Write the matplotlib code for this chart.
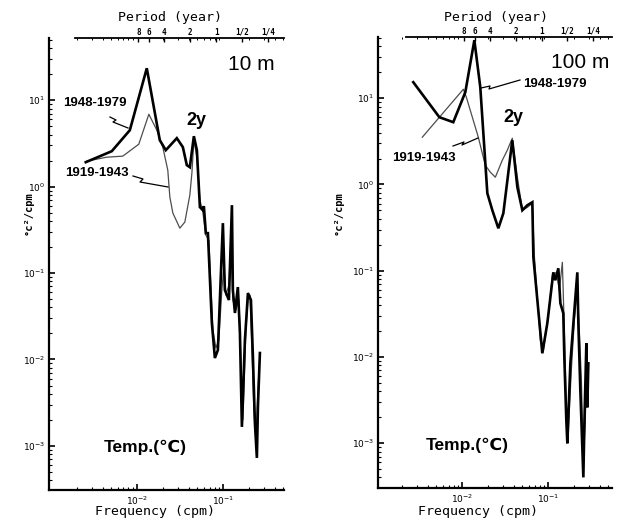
import numpy as np
import matplotlib
matplotlib.use("Agg")
import matplotlib.pyplot as plt
from matplotlib.lines import Line2D
from matplotlib.ticker import LogLocator, NullFormatter

# ---------------- data (log10 frequency [cpm], log10 power [degC^2/cpm]) -------------
# 10 m, 1948-1979
lf_10_a = [-2.593, -2.291, -2.081, -1.884, -1.733, -1.663, -1.535, -1.465, -1.419, -1.384,
           -1.337, -1.302, -1.267, -1.233, -1.221, -1.198, -1.174, -1.128, -1.093, -1.058,
           -1.000, -0.977, -0.930, -0.895, -0.884, -0.860, -0.826, -0.802, -0.779, -0.744,
           -0.709, -0.674, -0.651, -0.628, -0.605, -0.593, -0.570]
lp_10_a = [0.283, 0.410, 0.653, 1.370, 0.538, 0.422, 0.561, 0.457, 0.249, 0.225,
           0.584, 0.422, -0.237, -0.272, -0.225, -0.538, -0.538, -1.578, -1.983, -1.890,
           -0.422, -1.197, -1.312, -0.214, -1.197, -1.462, -1.162, -1.694, -2.780, -1.775,
           -1.231, -1.312, -1.971, -2.734, -3.139, -2.549, -1.925]
# 10 m, 1919-1943
lf_10_b = [-2.581, -2.349, -2.163, -1.977, -1.860, -1.767, -1.698, -1.640, -1.616, -1.581,
           -1.500, -1.442, -1.384, -1.360, -1.337, -1.302, -1.267, -1.233, -1.198, -1.163,
           -1.116, -1.081, -1.047, -1.012, -0.988, -0.965, -0.930, -0.907, -0.884, -0.849,
           -0.814, -0.791, -0.767, -0.733, -0.709, -0.686, -0.663, -0.640, -0.616, -0.593,
           -0.570]
lp_10_b = [0.295, 0.341, 0.353, 0.491, 0.838, 0.653, 0.457, 0.191, -0.121, -0.306,
           -0.480, -0.410, -0.098, 0.156, 0.538, 0.341, -0.156, -0.295, -0.561, -0.618,
           -1.659, -1.867, -1.775, -1.197, -0.908, -1.254, -1.139, -0.618, -1.312, -1.428,
           -1.312, -2.006, -2.699, -1.659, -1.312, -1.254, -1.890, -2.584, -2.931, -2.353,
           -1.948]
# 100 m, 1948-1979
lf_100_a = [-2.570, -2.267, -2.105, -1.965, -1.860, -1.791, -1.709, -1.651, -1.581, -1.523,
            -1.419, -1.360, -1.302, -1.244, -1.186, -1.174, -1.070, -1.012, -0.942, -0.919,
            -0.884, -0.860, -0.826, -0.814, -0.791, -0.779, -0.744, -0.709, -0.663, -0.651,
            -0.628, -0.593, -0.581, -0.558, -0.547, -0.535]
lp_100_a = [1.186, 0.780, 0.722, 1.070, 1.673, 1.128, -0.102, -0.299, -0.508, -0.334,
            0.513, -0.032, -0.299, -0.241, -0.206, -0.845, -1.958, -1.610, -1.019, -1.111,
            -0.972, -1.378, -1.494, -2.005, -2.735, -3.002, -2.074, -1.610, -1.019, -1.610,
            -2.387, -3.397, -2.770, -1.842, -2.585, -2.074]
# 100 m, 1919-1943
lf_100_b = [-2.465, -1.988, -1.953, -1.814, -1.733, -1.674, -1.616, -1.535, -1.477, -1.419,
            -1.360, -1.302, -1.244, -1.186, -1.163, -1.093, -1.058, -1.000, -0.953, -0.907,
            -0.872, -0.837, -0.814, -0.791, -0.767, -0.733, -0.698, -0.663, -0.640, -0.616,
            -0.593, -0.570, -0.558, -0.547, -0.535]
lp_100_b = [0.548, 1.104, 1.012, 0.548, 0.223, 0.142, 0.084, 0.281, 0.397, 0.536,
            0.084, -0.299, -0.265, -0.218, -0.821, -1.807, -1.923, -1.517, -1.053, -1.019,
            -1.227, -0.903, -1.691, -2.585, -2.852, -2.155, -1.575, -1.227, -1.691, -2.271,
            -3.200, -2.735, -2.039, -2.503, -2.155]

period_years = [8, 6, 4, 2, 1, 0.5, 0.25]
period_labels = ["8", "6", "4", "2", "1", "1/2", "1/4"]
y_ticks = [1e1, 1e0, 1e-1, 1e-2, 1e-3]
x_ticks = [1e-2, 1e-1]
depth_labels = ["10 m", "100 m"]
series_labels = ["1948-1979", "1919-1943"]

# ---------------- figure ----------------
W, H = 620, 523
fig = plt.figure(figsize=(W / 100, H / 100), dpi=100)
fig.patch.set_facecolor("white")


def P(x, y):
    return (x / W, 1 - y / H)


def leader(points):
    xs = [p[0] / W for p in points]
    ys = [1 - p[1] / H for p in points]
    fig.add_artist(Line2D(xs, ys, transform=fig.transFigure, color="black", lw=0.9))


mono = "DejaVu Sans Mono"
bold_sans = ["Liberation Sans", "DejaVu Sans"]


def setup_axes(rect, xlim, ylim, top_start):
    ax = fig.add_axes(rect)
    ax.set_xscale("log")
    ax.set_yscale("log")
    ax.set_xlim(*xlim)
    ax.set_ylim(*ylim)
    for s in ["top", "right"]:
        ax.spines[s].set_visible(False)
    for s in ["left", "bottom"]:
        ax.spines[s].set_linewidth(1.6)
    ax.set_xticks(x_ticks)
    ax.set_yticks(y_ticks)
    ax.xaxis.set_minor_locator(LogLocator(base=10, subs=np.arange(2, 10), numticks=20))
    ax.yaxis.set_minor_locator(LogLocator(base=10, subs=np.arange(2, 10), numticks=20))
    ax.xaxis.set_minor_formatter(NullFormatter())
    ax.yaxis.set_minor_formatter(NullFormatter())
    ax.tick_params(which="major", direction="in", length=4, width=1.2, labelsize=6.5)
    ax.tick_params(which="minor", direction="in", length=2, width=0.8)
    ax.tick_params(axis="x", pad=3)
    ax.tick_params(axis="y", pad=3)
    # period axis on top
    tw = ax.twiny()
    tw.set_xscale("log")
    tw.set_xlim(*xlim)
    freqs = [1.0 / (12.0 * p) for p in period_years]
    tw.set_xticks(freqs)
    tw.set_xticklabels(period_labels, fontsize=5.5, fontweight="bold", family=mono)
    tw.xaxis.set_minor_locator(LogLocator(base=10, subs=np.arange(2, 10), numticks=20))
    tw.xaxis.set_minor_formatter(NullFormatter())
    tw.tick_params(which="major", direction="in", length=3, width=1.0, pad=1)
    tw.tick_params(which="minor", direction="in", length=1.5, width=0.7)
    for s in ["left", "right", "bottom"]:
        tw.spines[s].set_visible(False)
    tw.spines["top"].set_bounds(top_start, xlim[1])
    tw.spines["top"].set_linewidth(1.3)
    return ax


axL = setup_axes([49 / W, 1 - 490 / H, (284 - 49) / W, (490 - 38) / H],
                 (10 ** -3.02, 10 ** -0.29), (10 ** -3.51, 10 ** 1.72), 10 ** -2.72)
axR = setup_axes([378 / W, 1 - 488 / H, (612 - 378) / W, (488 - 37) / H],
                 (10 ** -2.98, 10 ** -0.26), (10 ** -3.52, 10 ** 1.71), 10 ** -2.66)

for ax, (fa, pa, fb, pb) in [
    (axL, (lf_10_a, lp_10_a, lf_10_b, lp_10_b)),
    (axR, (lf_100_a, lp_100_a, lf_100_b, lp_100_b)),
]:
    ax.plot(10 ** np.array(fb), 10 ** np.array(pb), color="0.3", lw=0.9, zorder=3)
    ax.plot(10 ** np.array(fa), 10 ** np.array(pa), color="black", lw=1.9, zorder=4,
            solid_joinstyle="miter")

# ---------------- texts ----------------
for xc in (155, 478):
    fig.text(*P(xc, 512), "Frequency (cpm)", ha="center", va="center", family=mono, fontsize=9.5)
for xc in (170, 496):
    fig.text(*P(xc, 18), "Period (year)", ha="center", va="center", family=mono, fontsize=9.5)
for xc in (29, 339):
    fig.text(*P(xc, 213), "°c²/cpm", ha="center", va="center", rotation=90, family=mono,
             fontsize=7.5, fontweight="bold")

fig.text(*P(251, 65), depth_labels[0], ha="center", va="center", family=bold_sans, fontsize=15)
fig.text(*P(580, 63), depth_labels[1], ha="center", va="center", family=bold_sans, fontsize=15)

fig.text(*P(196, 121), "2y", ha="center", va="center", family=bold_sans, fontsize=13, fontweight="bold")
fig.text(*P(513, 117), "2y", ha="center", va="center", family=bold_sans, fontsize=13, fontweight="bold")

fig.text(*P(145, 447), "Temp.(℃)", ha="center", va="center", family=bold_sans, fontsize=12.5, fontweight="bold")
fig.text(*P(467, 445), "Temp.(℃)", ha="center", va="center", family=bold_sans, fontsize=12.5, fontweight="bold")

fig.text(*P(95, 103), series_labels[0], ha="center", va="center", family=bold_sans, fontsize=9.5,
         fontweight="bold")
fig.text(*P(97, 173), series_labels[1], ha="center", va="center", family=bold_sans, fontsize=9.5,
         fontweight="bold")
fig.text(*P(555, 84), series_labels[0], ha="center", va="center", family=bold_sans, fontsize=9.5,
         fontweight="bold")
fig.text(*P(424, 158), series_labels[1], ha="center", va="center", family=bold_sans, fontsize=9.5,
         fontweight="bold")

# leader lines with small zigzag
leader([(110, 117), (116, 120), (113, 122), (128, 128)])
leader([(133, 176), (143, 179), (140, 182), (168, 187)])
leader([(481, 88), (490, 86), (489, 89), (520, 80)])
leader([(453, 146), (464, 142), (462, 145), (478, 138)])

fig.savefig("out.png", dpi=100, facecolor="white")
